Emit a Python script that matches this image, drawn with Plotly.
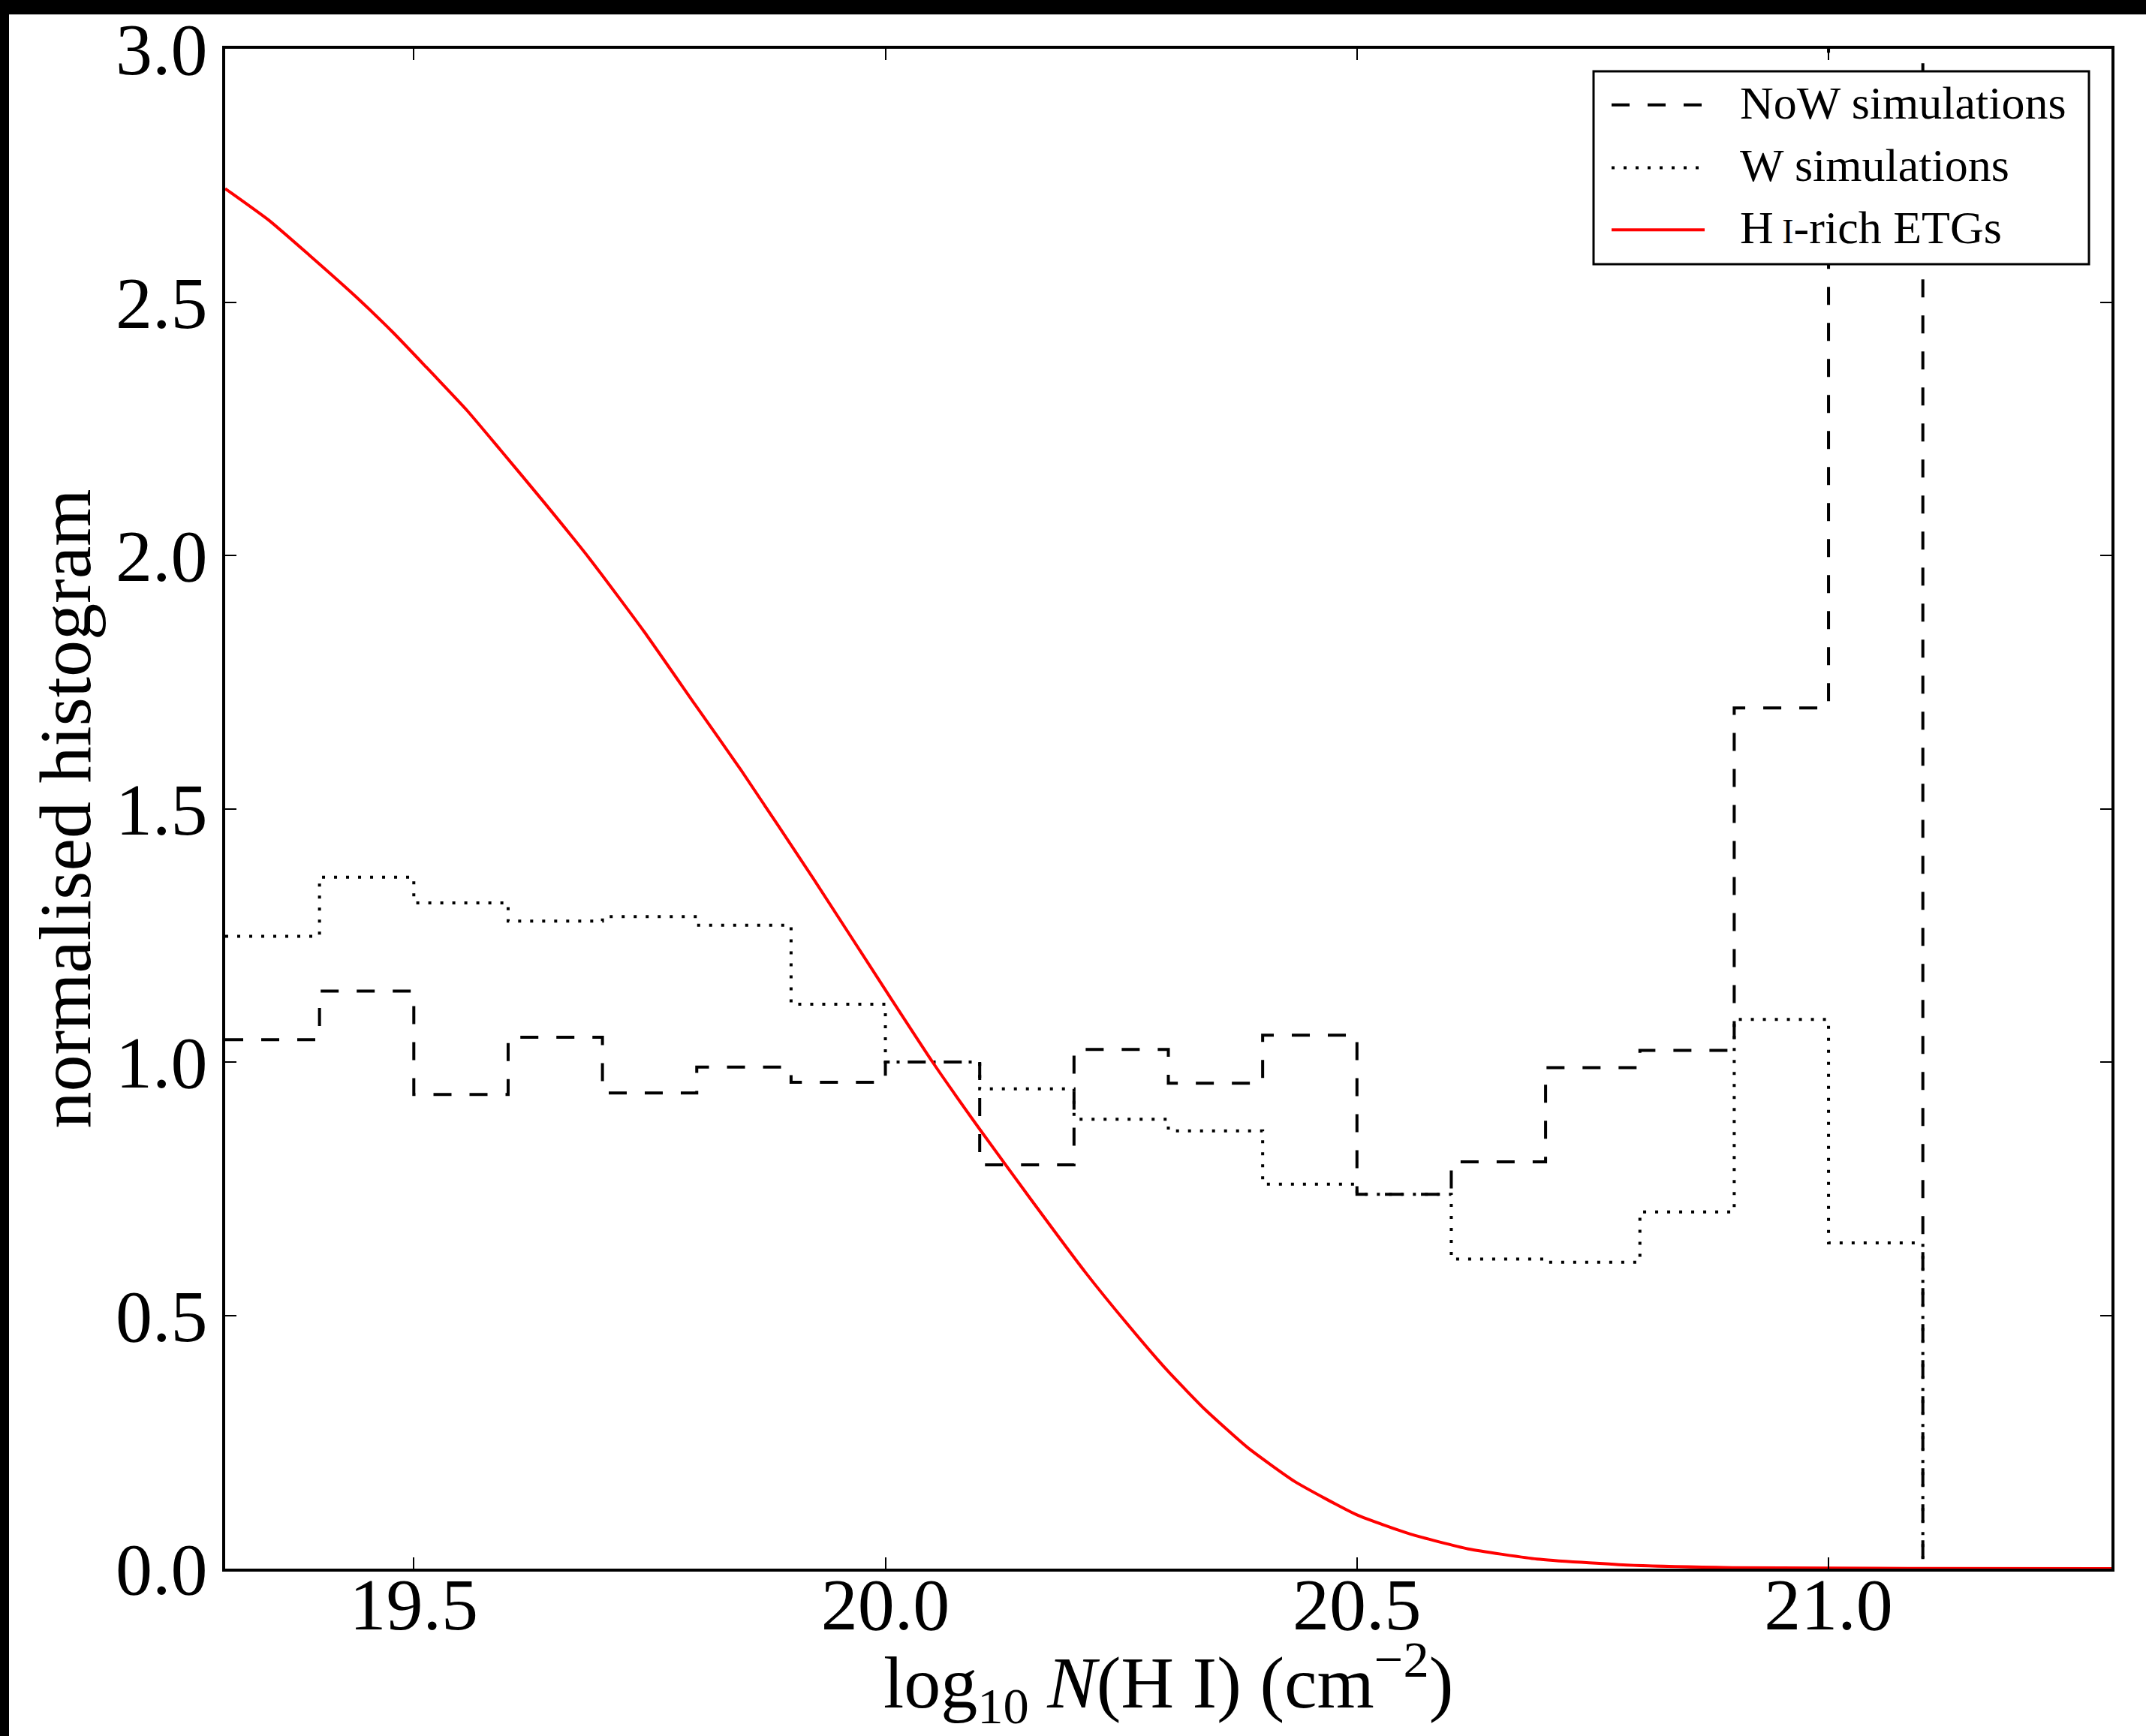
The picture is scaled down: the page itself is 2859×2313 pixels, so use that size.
import plotly.graph_objects as go

# ---- data ----
bin_edges = [19.3, 19.4, 19.5, 19.6, 19.7, 19.8, 19.9, 20.0, 20.1, 20.2,
             20.3, 20.4, 20.5, 20.6, 20.7, 20.8, 20.9, 21.0, 21.1]
now_values = [1.044, 1.140, 0.936, 1.049, 0.939, 0.990, 0.960, 1.000, 0.797,
              1.025, 0.958, 1.053, 0.739, 0.803, 0.989, 1.023, 1.699, 3.600]
w_values = [1.248, 1.365, 1.314, 1.278, 1.287, 1.270, 1.114, 1.000, 0.947,
            0.887, 0.864, 0.759, 0.739, 0.611, 0.605, 0.704, 1.084, 0.643]

etg_x = [19.300, 19.346, 19.389, 19.439, 19.478, 19.513, 19.556, 19.591, 19.638,
         19.687, 19.744, 19.798, 19.847, 19.924, 20.005, 20.050, 20.099, 20.155,
         20.212, 20.256, 20.300, 20.339, 20.384, 20.434, 20.500, 20.557, 20.618,
         20.691, 20.786, 20.898, 21.000, 21.100, 21.300]
etg_y = [2.724, 2.662, 2.593, 2.510, 2.440, 2.372, 2.287, 2.210, 2.105,
         1.992, 1.850, 1.706, 1.576, 1.361, 1.128, 1.000, 0.870, 0.727,
         0.585, 0.484, 0.389, 0.314, 0.239, 0.172, 0.106, 0.068, 0.039,
         0.019, 0.007, 0.002, 0.001, 0.0004, 0.0001]

x_ticks = [19.5, 20.0, 20.5, 21.0]
y_ticks = [0.0, 0.5, 1.0, 1.5, 2.0, 2.5, 3.0]
legend_labels = ["NoW simulations", "W simulations",
                 "H<span style='font-size:46px'> I</span>-rich ETGs"]
x_title = "log<sub>10</sub> <i>N</i>(H I) (cm<sup>−2</sup>)"
y_title = "normalised histogram"

FONT = "Liberation Serif"
W, H = 2859, 2313
ML, MR, MT, MB = 300, 46, 58, 223


def step_xy(edges, vals):
    # matplotlib 'step' outline; the rise at the left edge hides under the spine
    xs = list(edges[:-1]) + [edges[-1]]
    ys = list(vals) + [0.0]
    return xs, ys


fig = go.Figure()
xs, ys = step_xy(bin_edges, now_values)
fig.add_trace(go.Scatter(x=xs, y=ys, mode="lines", line_shape="hv",
                         line=dict(color="black", width=4, dash="24px,24px"),
                         name="NoW simulations", showlegend=False))
xs, ys = step_xy(bin_edges, w_values)
fig.add_trace(go.Scatter(x=xs, y=ys, mode="lines", line_shape="hv",
                         line=dict(color="black", width=4, dash="4px,12px"),
                         name="W simulations", showlegend=False))
fig.add_trace(go.Scatter(x=etg_x, y=etg_y, mode="lines", line_shape="spline",
                         line=dict(color="red", width=4, smoothing=0.5),
                         name="H I-rich ETGs", showlegend=False))

pw = W - ML - MR
ph = H - MT - MB


def px2paper_x(p):
    return (p - ML) / pw


def px2paper_y(p):
    return 1 - (p - MT) / ph


shapes = []
# black strips along top and left edges of the page, as in the reference
shapes.append(dict(type="rect", xref="paper", yref="paper", layer="below",
                   x0=px2paper_x(-20), x1=px2paper_x(W + 20),
                   y0=px2paper_y(12), y1=px2paper_y(-20),
                   fillcolor="black", line=dict(width=0)))
shapes.append(dict(type="rect", xref="paper", yref="paper", layer="below",
                   x0=px2paper_x(-20), x1=px2paper_x(12),
                   y0=px2paper_y(H + 20), y1=px2paper_y(-20),
                   fillcolor="black", line=dict(width=0)))

# legend box
shapes.append(dict(type="rect", xref="paper", yref="paper",
                   x0=px2paper_x(2123), x1=px2paper_x(2783),
                   y0=px2paper_y(346), y1=px2paper_y(88),
                   fillcolor="white", line=dict(color="black", width=3)))
row_y = [133, 217, 300]
styles = [dict(color="black", width=4, dash="24px,24px"),
          dict(color="black", width=4, dash="4px,12px"),
          dict(color="red", width=4)]
annotations = []
for ry, st, lab in zip(row_y, styles, legend_labels):
    shapes.append(dict(type="line", xref="paper", yref="paper",
                       x0=px2paper_x(2147), x1=px2paper_x(2271),
                       y0=px2paper_y(ry), y1=px2paper_y(ry), line=st))
    annotations.append(dict(xref="paper", yref="paper", x=px2paper_x(2316),
                            y=px2paper_y(ry - 3), xanchor="left", yanchor="middle",
                            text=lab, showarrow=False,
                            font=dict(family=FONT, size=62, color="black")))

# axis titles
annotations.append(dict(xref="paper", yref="paper", x=0.5, y=px2paper_y(2243),
                        xanchor="center", yanchor="middle", text=x_title,
                        showarrow=False,
                        font=dict(family=FONT, size=98, color="black")))
annotations.append(dict(xref="paper", yref="paper", x=px2paper_x(86), y=0.5,
                        xanchor="center", yanchor="middle", text=y_title,
                        textangle=-90, showarrow=False,
                        font=dict(family=FONT, size=98, color="black")))

axis_common = dict(showline=True, linecolor="black", linewidth=4, mirror="allticks",
                   ticks="inside", ticklen=15, tickwidth=2, tickcolor="black",
                   showgrid=False, zeroline=False,
                   tickfont=dict(family=FONT, size=98, color="black"))

fig.update_layout(
    width=W, height=H,
    margin=dict(l=ML, r=MR, t=MT, b=MB, pad=0),
    paper_bgcolor="white", plot_bgcolor="white",
    showlegend=False,
    shapes=shapes, annotations=annotations,
    xaxis=dict(range=[19.3, 21.3], tickvals=x_ticks,
               ticktext=[f"{v:.1f}" for v in x_ticks],
               ticklabelstandoff=-41,
               **axis_common),
    yaxis=dict(range=[0, 3.0], tickvals=y_ticks,
               ticktext=[f"{v:.1f}" for v in y_ticks],
               ticklabelstandoff=0,
               **axis_common),
)

fig.write_html("out.html")
